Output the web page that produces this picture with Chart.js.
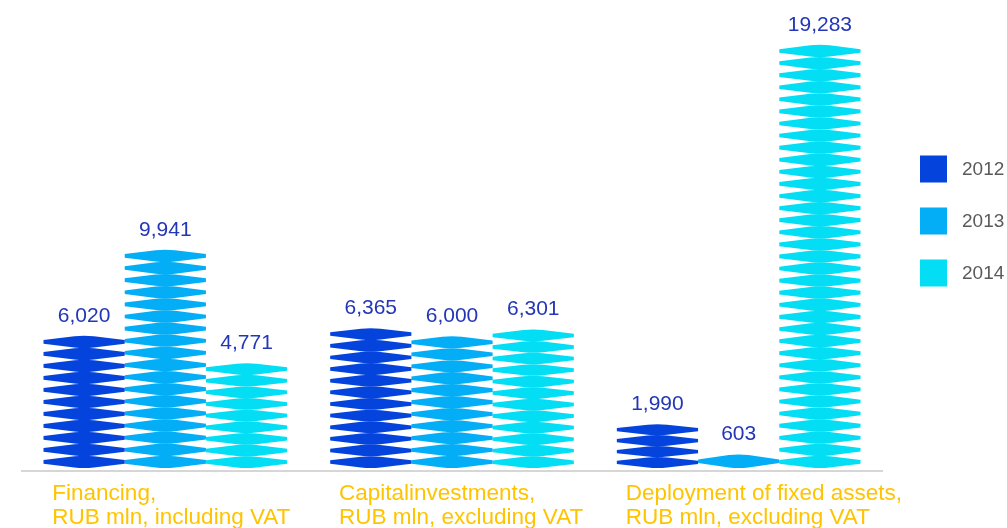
<!DOCTYPE html>
<html>
<head>
<meta charset="utf-8">
<script src="https://cdn.jsdelivr.net/npm/chart.js@4.4.0/dist/chart.umd.min.js"></script>
<style>
    html, body { margin: 0; padding: 0; background: #fff; }
    #chart-container { width: 1007px; height: 528px; }
</style>
</head>
<body>
<div id="chart-container"><canvas id="myChart" width="1007" height="528"></canvas></div>
<script>
// Dados do gráfico
var categories = [
    ['Financing,', 'RUB mln, including VAT'],
    ['Capitalinvestments,', 'RUB mln, excluding VAT'],
    ['Deployment of fixed assets,', 'RUB mln, excluding VAT']
];
var years = ['2012', '2013', '2014'];
var values2012 = [6020, 6365, 1990];
var values2013 = [9941, 6000, 603];
var values2014 = [4771, 6301, 19283];

var yearColors = ['#0444dc', '#03aef6', '#03def4'];
var fontFamily = "'Liberation Sans', Arial, sans-serif";

// Barras desenhadas como pilhas de "lentes" pontudas
var lensBars = {
    id: 'lensBars',
    beforeDatasetDraw: function (chart, args) {
        var ctx = chart.ctx;
        ctx.save();
        ctx.fillStyle = chart.data.datasets[args.index].backgroundColor;
        args.meta.data.forEach(function (bar) {
            var p = bar.getProps(['x', 'y', 'base', 'width'], true);
            var left = p.x - p.width / 2;
            var right = p.x + p.width / 2;
            var q = p.width * 0.12;
            var h = p.base - p.y;
            var n = Math.max(1, Math.round(h / 12));
            var rowH = h / n;
            for (var i = 0; i < n; i++) {
                var y0 = p.y + i * rowH;
                var y1 = y0 + rowH + 0.4;
                var yc = (y0 + y1) / 2;
                var e = Math.min(1.8, rowH * 0.15);
                ctx.beginPath();
                ctx.moveTo(left, yc - e);
                ctx.lineTo(p.x - q, y0 + 0.6);
                ctx.quadraticCurveTo(p.x, y0 - 0.4, p.x + q, y0 + 0.6);
                ctx.lineTo(right, yc - e);
                ctx.lineTo(right, yc + e);
                ctx.lineTo(p.x + q, y1 - 0.6);
                ctx.quadraticCurveTo(p.x, y1 + 0.4, p.x - q, y1 - 0.6);
                ctx.lineTo(left, yc + e);
                ctx.closePath();
                ctx.fill();
            }
        });
        ctx.restore();
        return false;
    }
};

// Valores acima das barras
var valueLabels = {
    id: 'valueLabels',
    afterDatasetsDraw: function (chart) {
        var ctx = chart.ctx;
        ctx.save();
        ctx.font = '21px ' + fontFamily;
        ctx.fillStyle = '#2336b8';
        ctx.textAlign = 'center';
        ctx.textBaseline = 'alphabetic';
        chart.data.datasets.forEach(function (ds, i) {
            chart.getDatasetMeta(i).data.forEach(function (bar, j) {
                ctx.fillText(ds.data[j].toLocaleString('en-US'), bar.x, bar.y - 14);
            });
        });
        ctx.restore();
    }
};

// Legenda à direita
var sideLegend = {
    id: 'sideLegend',
    afterDraw: function (chart) {
        var ctx = chart.ctx;
        ctx.save();
        ctx.font = '19px ' + fontFamily;
        ctx.textBaseline = 'middle';
        chart.data.datasets.forEach(function (ds, i) {
            var cy = 169 + i * 52;
            ctx.fillStyle = ds.backgroundColor;
            ctx.fillRect(920, cy - 13.5, 27, 27);
            ctx.fillStyle = '#5a5a5a';
            ctx.fillText(ds.label, 962, cy + 1);
        });
        ctx.restore();
    }
};

var ctx = document.getElementById('myChart').getContext('2d');
var myChart = new Chart(ctx, {
    type: 'bar',
    data: {
        labels: categories,
        datasets: [
            { label: years[0], data: values2012, backgroundColor: yearColors[0] },
            { label: years[1], data: values2013, backgroundColor: yearColors[1] },
            { label: years[2], data: values2014, backgroundColor: yearColors[2] }
        ]
    },
    options: {
        responsive: false,
        animation: false,
        layout: { padding: { left: 22, right: 125, top: 29, bottom: 0 } },
        plugins: {
            legend: { display: false },
            tooltip: { enabled: false }
        },
        datasets: { bar: { barPercentage: 1, categoryPercentage: 0.85 } },
        scales: {
            x: {
                grid: { display: false, drawTicks: false },
                border: { display: true, color: '#d6d6d6', width: 2 },
                ticks: {
                    color: '#ffc400',
                    font: { family: fontFamily, size: 22.5, lineHeight: 1.07 },
                    align: 'start',
                    labelOffset: -113,
                    padding: 11,
                    autoSkip: false,
                    maxRotation: 0,
                    minRotation: 0
                },
                afterFit: function (scale) {
                    scale.height = 57;
                    scale.paddingLeft = 0;
                    scale.paddingRight = 0;
                }
            },
            y: { display: false, min: -150, max: 20000 }
        }
    },
    plugins: [lensBars, valueLabels, sideLegend]
});
</script>
</body>
</html>
